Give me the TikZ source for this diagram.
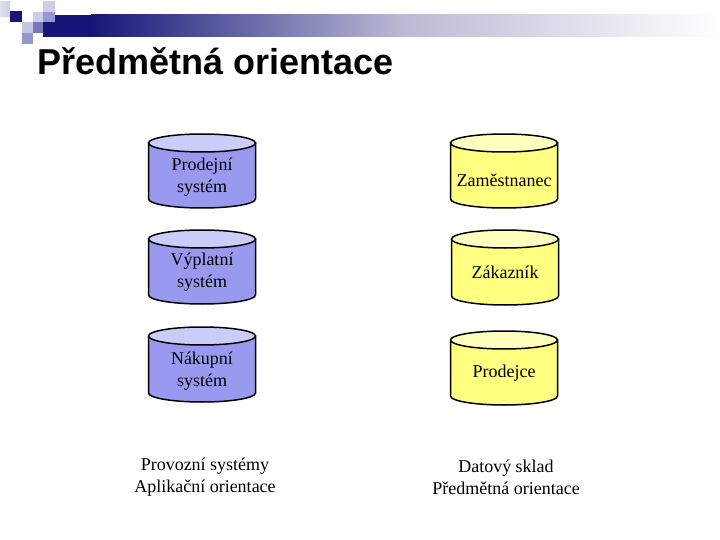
\documentclass[tikz,border=0pt]{standalone}
\usepackage{fontspec}
\setmainfont{Liberation Serif}
\newfontfamily\titlefont{Liberation Sans}
\definecolor{navyc}{RGB}{22,22,120}
\definecolor{barmid}{RGB}{185,185,212}
\definecolor{lavlight}{RGB}{205,205,232}
\definecolor{lavmed}{RGB}{150,150,205}
\definecolor{lavmid2}{RGB}{120,120,185}
\definecolor{bluebody}{RGB}{153,153,240}
\definecolor{bluetop}{RGB}{204,204,250}
\definecolor{yelbody}{RGB}{255,255,128}
\definecolor{yeltop}{RGB}{255,255,190}
\newcommand\drum[5]{%
  \filldraw[drumline, fill=#4] ({#1-53.5},{#2+9}) -- ({#1-53.5},{#3-9})
    arc[start angle=180, end angle=0, x radius=53.5, y radius=9]
    -- ({#1+53.5},{#2+9}) -- cycle;
  \filldraw[drumline, fill=#5] (#1,{#2+9}) ellipse [x radius=53.5, y radius=9];
}
\begin{document}
\begin{tikzpicture}[x=1pt, y=-1pt,
  drumline/.style={draw=black, line width=1.5pt},
  lbl/.style={font=\fontsize{18}{22}\selectfont, align=center, inner sep=0pt},
  sq/.style={draw=none}]
\useasboundingbox[fill=white] (0,0) rectangle (720,540);
% header bar
\fill[navyc] (43,15) rectangle (92,37);
\shade[left color=navyc, right color=barmid] (91,15) rectangle (400,37);
\shade[left color=barmid, right color=white] (399,15) rectangle (720,37);
% logo squares
\shade[sq, left color=lavlight!60!white, right color=lavlight] (0,2) rectangle (10,17);
\fill[navyc] (10,11) rectangle (22,22);
\fill[lavlight] (43,1) rectangle (55,12);
\fill[lavmed] (43,12) rectangle (55,22);
\fill[lavlight] (33,12) rectangle (43,22);
\fill[lavlight!85!lavmed] (22,22) rectangle (33,33);
\fill[lavmid2] (33,22) rectangle (43,33);
\fill[lavmed] (22,33) rectangle (33,44);
% title
\node[font=\titlefont\bfseries\fontsize{36}{40}\selectfont, anchor=base west, inner sep=0pt] (title) at (37,75) {Předmětná orientace};
% cylinders
\drum{202}{134}{208}{bluebody}{bluetop}
\drum{202}{230}{304}{bluebody}{bluetop}
\drum{202}{327}{402}{bluebody}{bluetop}
\drum{504}{134}{208}{yelbody}{yeltop}
\drum{505}{230}{305}{yelbody}{yeltop}
\drum{504}{331}{405}{yelbody}{yeltop}
\node[lbl] (prodejni) at (202,177) {Prodejní\\systém};
\node[lbl] (vyplatni) at (202,272) {Výplatní\\systém};
\node[lbl] (nakupni) at (202,371) {Nákupní\\systém};
\node[lbl] (zamestnanec) at (504,180) {Zaměstnanec};
\node[lbl] (zakaznik) at (505,272) {Zákazník};
\node[lbl] (prodejce) at (504,373) {Prodejce};
\node[lbl] (provozni) at (205,477) {Provozní systémy\\Aplikační orientace};
\node[lbl] (datovy) at (506,477) {Datový sklad\\Předmětná orientace};
\end{tikzpicture}
\end{document}
